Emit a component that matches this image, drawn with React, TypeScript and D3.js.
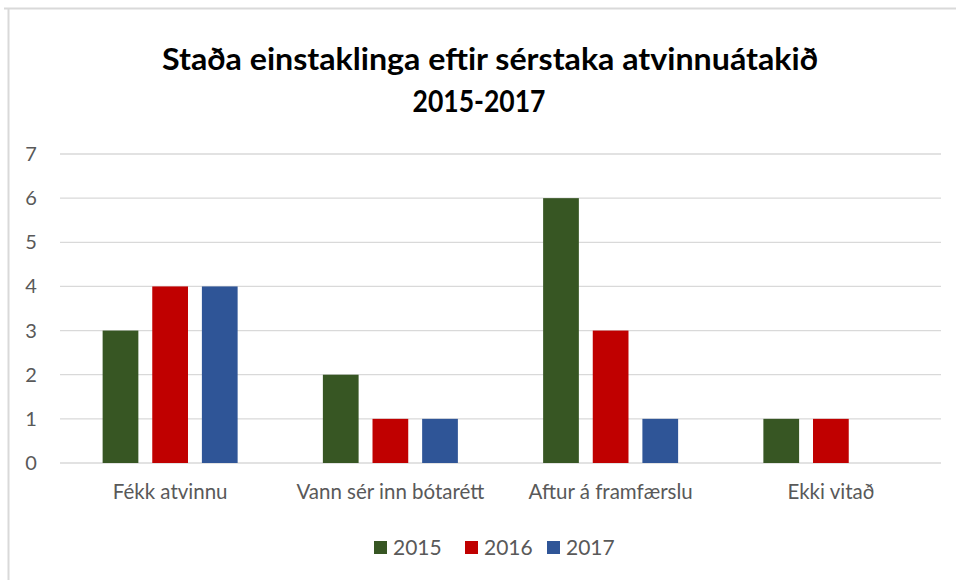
import React from 'react';
import * as d3 from 'd3';

// chart data
const categories = ['Fékk atvinnu', 'Vann sér inn bótarétt', 'Aftur á framfærslu', 'Ekki vitað'];
const seriesNames = ['2015', '2016', '2017'];
const values2015 = [3, 2, 6, 1];
const values2016 = [4, 1, 3, 1];
const values2017 = [4, 1, 1, 0];
const yTicks = [0, 1, 2, 3, 4, 5, 6, 7];
const colors = ['#375623', '#C00000', '#2F5597'];

const W = 957;
const H = 580;
const FONT = 'Lato, "Open Sans", sans-serif';

export default function App() {
  const series = [values2015, values2016, values2017];

  // x: one band per category, inner band per series
  const x = d3.scaleBand<string>().domain(categories).range([60, 941]).paddingInner(0).paddingOuter(0);
  const xInner = d3.scaleBand<string>().domain(seriesNames).range([0, 135]).paddingInner(0.28).paddingOuter(0);
  const y = d3.scaleLinear().domain([0, 7]).range([463, 154]);

  const groupOffset = (x.bandwidth() - 135) / 2;

  // legend layout
  const legendX = [374, 465, 547];

  return (
    <svg width={W} height={H} style={{ position: 'absolute', left: 0, top: 0, background: '#fff' }}>
      <rect x={0} y={0} width={W} height={H} fill="#fff" />
      {/* cropped border (top and left only) */}
      <line x1={4} x2={956} y1={8.5} y2={8.5} stroke="#D9D9D9" strokeWidth={2} />
      <line x1={8.5} x2={8.5} y1={8} y2={H} stroke="#D9D9D9" strokeWidth={2} />

      {/* title */}
      <text x={490} y={70} textAnchor="middle" fontFamily={FONT} fontWeight="bold" fontSize={30} fill="#000"
        textLength={656} lengthAdjust="spacingAndGlyphs">
        Staða einstaklinga eftir sérstaka atvinnuátakið
      </text>
      <text x={479} y={112} textAnchor="middle" fontFamily={FONT} fontWeight="bold" fontSize={30} fill="#000"
        textLength={133} lengthAdjust="spacingAndGlyphs">
        2015-2017
      </text>

      {/* gridlines and y tick labels */}
      {yTicks.map((t) => (
        <g key={t}>
          <line x1={60} x2={941} y1={y(t)} y2={y(t)} stroke="#D9D9D9" strokeWidth={1.3} />
          <text x={31} y={y(t) + 7} textAnchor="middle" fontFamily={FONT} fontSize={20} fill="#595959">
            {t}
          </text>
        </g>
      ))}

      {/* bars */}
      {categories.map((c, i) => (
        <g key={c} transform={`translate(${(x(c) ?? 0) + groupOffset},0)`}>
          {series.map((vals, s) =>
            vals[i] > 0 ? (
              <rect
                key={s}
                x={xInner(seriesNames[s])}
                y={y(vals[i])}
                width={xInner.bandwidth()}
                height={y(0) - y(vals[i])}
                fill={colors[s]}
              />
            ) : null
          )}
          <text
            x={x.bandwidth() / 2 - groupOffset}
            y={499}
            textAnchor="middle"
            fontFamily={FONT}
            fontSize={20.5}
            fill="#595959"
          >
            {c}
          </text>
        </g>
      ))}

      {/* legend */}
      {seriesNames.map((n, s) => (
        <g key={n} transform={`translate(${legendX[s]},0)`}>
          <rect x={0} y={541} width={13} height={13} fill={colors[s]} />
          <text x={19} y={555} fontFamily={FONT} fontSize={21} fill="#595959">
            {n}
          </text>
        </g>
      ))}
    </svg>
  );
}
